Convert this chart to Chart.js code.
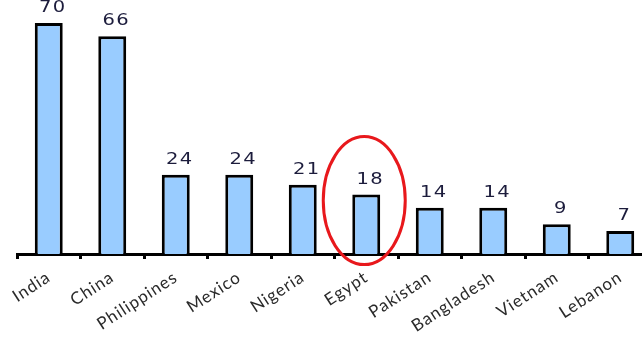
<!DOCTYPE html>
<html>
<head>
<meta charset="UTF-8">
<title>Countries</title>
<script src="https://cdn.jsdelivr.net/npm/chart.js"></script>
<style>
    html, body { margin: 0; padding: 0; background: #fff; overflow: hidden; }
    #wrap { position: relative; width: 662px; height: 339px; }
</style>
</head>
<body>
<div id="wrap"><canvas id="chart"></canvas></div>
<script>
    const countries = ['India', 'China', 'Philippines', 'Mexico', 'Nigeria', 'Egypt', 'Pakistan', 'Bangladesh', 'Vietnam', 'Lebanon'];
    const values = [70, 66, 24, 24, 21, 18, 14, 14, 9, 7];
    const highlighted = 'Egypt';

    // the source picture is stretched sideways, so the axis text gets a little letter spacing
    const spacing = {
        id: 'spacing',
        beforeDraw(chart) { chart.ctx.letterSpacing = '1px'; },
        afterDraw(chart) { chart.ctx.letterSpacing = '0px'; }
    };

    // value labels above bars, drawn a bit wide like the original
    const valueLabels = {
        id: 'valueLabels',
        afterDatasetsDraw(chart) {
            const ctx = chart.ctx;
            const meta = chart.getDatasetMeta(0);
            meta.data.forEach((bar, i) => {
                ctx.save();
                ctx.letterSpacing = '1px';
                ctx.translate(bar.x + 4, bar.y - 11);
                ctx.scale(1.3, 1);
                ctx.font = '15px "DejaVu Sans"';
                ctx.fillStyle = '#1c1c3c';
                ctx.textAlign = 'center';
                ctx.textBaseline = 'alphabetic';
                ctx.fillText(String(values[i]), 0, 0);
                ctx.restore();
            });
        }
    };

    // red ellipse round the highlighted country
    const ring = {
        id: 'ring',
        afterDraw(chart) {
            const i = countries.indexOf(highlighted);
            const x = chart.scales.x.getPixelForValue(i);
            const y = chart.scales.y.getPixelForValue(values[i]) + 6;
            const ctx = chart.ctx;
            ctx.save();
            ctx.strokeStyle = '#e8181c';
            ctx.lineWidth = 3;
            ctx.beginPath();
            ctx.ellipse(x - 2, y, 41, 64, 0, 0, Math.PI * 2);
            ctx.stroke();
            ctx.restore();
        }
    };

    new Chart(document.getElementById('chart'), {
        type: 'bar',
        data: {
            labels: countries,
            datasets: [{
                data: values,
                backgroundColor: '#99ccff',
                borderColor: '#000',
                borderWidth: 3,
                categoryPercentage: 1,
                barPercentage: 0.44
            }]
        },
        options: {
            responsive: true,
            maintainAspectRatio: false,
            animation: false,
            layout: { padding: { left: 17, right: 10, top: 0, bottom: 0 } },
            plugins: { legend: { display: false }, tooltip: { enabled: false } },
            scales: {
                x: {
                    afterFit(scale) { scale.height = 85; },
                    border: { display: true, color: '#000', width: 3 },
                    grid: {
                        offset: true,
                        drawOnChartArea: false,
                        drawTicks: true,
                        tickLength: 5,
                        color: '#000',
                        lineWidth: 3
                    },
                    ticks: {
                        minRotation: 33,
                        maxRotation: 33,
                        padding: 8,
                        color: '#2a2a2a',
                        font: { family: 'Lato', size: 17 }
                    }
                },
                y: {
                    display: false,
                    min: 0,
                    max: 77
                }
            }
        },
        plugins: [spacing, valueLabels, ring]
    });
</script>
</body>
</html>
